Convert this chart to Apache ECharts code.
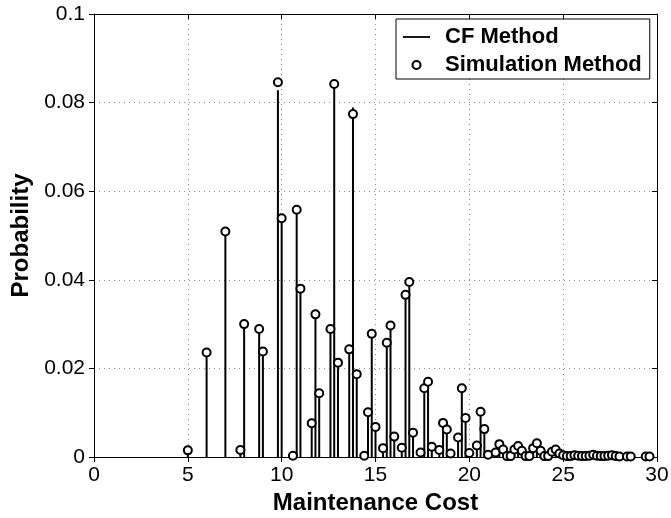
<!DOCTYPE html>
<html>
<head>
<meta charset="utf-8">
<script src="https://cdn.jsdelivr.net/npm/echarts@6/dist/echarts.min.js"></script>
<style>html,body{margin:0;padding:0;background:#fff}#c{width:671px;height:518px}</style>
</head>
<body>
<div id="c"></div>
<script>
// Maintenance cost values (x positions of the distribution)
const costs = [5.0, 6.0, 7.0, 7.8, 8.0, 8.8, 9.0, 9.8, 10.0, 10.6, 10.8, 11.0, 11.6, 11.8, 12.0, 12.6, 12.8, 13.0,
  13.6, 13.8, 14.0, 14.4, 14.6, 14.8, 15.0, 15.4, 15.6, 15.8, 16.0, 16.4, 16.6, 16.8, 17.0, 17.4, 17.6, 17.8, 18.0,
  18.4, 18.6, 18.8, 19.0, 19.4, 19.6, 19.8, 20.0, 20.4, 20.6, 20.8, 21.0, 21.4, 21.6, 21.8, 22.0, 22.2, 22.4, 22.6,
  22.8, 23.0, 23.2, 23.4, 23.6, 23.8, 24.0, 24.2, 24.4, 24.6, 24.8, 25.0, 25.2, 25.4, 25.6, 25.8, 26.0, 26.2, 26.4,
  26.6, 26.8, 27.0, 27.2, 27.4, 27.6, 27.8, 28.0, 28.4, 28.6, 29.4, 29.6];
// Simulation method probabilities (circles)
const simProb = [0.0015, 0.0236, 0.0509, 0.0016, 0.0300, 0.0289, 0.0238, 0.0846, 0.0539, 0.0003, 0.0558, 0.0380,
  0.0076, 0.0322, 0.0144, 0.0289, 0.0842, 0.0213, 0.0243, 0.0774, 0.0187, 0.0003, 0.0101, 0.0278, 0.0068, 0.0020,
  0.0258, 0.0297, 0.0046, 0.0021, 0.0366, 0.0395, 0.0055, 0.0010, 0.0155, 0.0170, 0.0023, 0.0016, 0.0077, 0.0062,
  0.0008, 0.0044, 0.0155, 0.0088, 0.0009, 0.0026, 0.0102, 0.0063, 0.0005, 0.0010, 0.0029, 0.0017, 0.0002, 0.0002,
  0.0017, 0.0025, 0.0014, 0.0002, 0.0002, 0.0020, 0.0031, 0.0014, 0.0002, 0.0002, 0.0012, 0.0017, 0.0008, 0.0004,
  0.0002, 0.0002, 0.0004, 0.0003, 0.0002, 0.0002, 0.0003, 0.0005, 0.0003, 0.0002, 0.0002, 0.0003, 0.0004, 0.0002,
  0.0001, 0.0001, 0.0001, 0.0001, 0.0001];
// CF method probabilities (stems)
const cfProb = [0.0015, 0.0236, 0.0509, 0.0016, 0.0300, 0.0293, 0.0238, 0.0828, 0.0539, 0.0003, 0.0558, 0.0380,
  0.0076, 0.0322, 0.0144, 0.0289, 0.0842, 0.0213, 0.0243, 0.0789, 0.0187, 0.0003, 0.0101, 0.0278, 0.0068, 0.0020,
  0.0258, 0.0297, 0.0046, 0.0021, 0.0366, 0.0395, 0.0055, 0.0010, 0.0155, 0.0170, 0.0023, 0.0016, 0.0077, 0.0062,
  0.0008, 0.0044, 0.0155, 0.0088, 0.0009, 0.0026, 0.0102, 0.0063, 0.0005, 0.0010, 0.0029, 0.0017, 0.0002, 0.0002,
  0.0017, 0.0025, 0.0014, 0.0002, 0.0002, 0.0020, 0.0031, 0.0014, 0.0002, 0.0002, 0.0012, 0.0017, 0.0008, 0.0004,
  0.0002, 0.0002, 0.0004, 0.0003, 0.0002, 0.0002, 0.0003, 0.0005, 0.0003, 0.0002, 0.0002, 0.0003, 0.0004, 0.0002,
  0.0001, 0.0001, 0.0001, 0.0001, 0.0001];
const seriesNames = ['CF Method', 'Simulation Method'];
const xTitle = 'Maintenance Cost';
const yTitle = 'Probability';

const FONT = '"Liberation Sans", Arial, Helvetica, sans-serif';
const chart = echarts.init(document.getElementById('c'), null, {renderer: 'canvas'});
const gridLine = {show: true, lineStyle: {color: '#8a8a8a', type: [1, 4], width: 1}};
const option = {
  animation: false,
  backgroundColor: '#fff',
  grid: {left: 94, right: 14, top: 14, bottom: 61, containLabel: false, outerBoundsMode: 'none'},
  legend: {
    orient: 'vertical', left: 396, top: 19,
    padding: [7, 8, 3, 7], itemGap: 6, itemWidth: 27, itemHeight: 8,
    borderColor: '#000', borderWidth: 1, backgroundColor: '#fff',
    textStyle: {fontFamily: FONT, fontSize: 22, fontWeight: 'bold', color: '#000', lineHeight: 22, padding: [0, 0, 0, 10]},
    data: [
      {name: seriesNames[0], icon: 'path://M0,0L27,0L27,1.8L0,1.8Z', itemStyle: {color: '#000'}},
      {name: seriesNames[1], icon: 'circle', itemStyle: {color: '#fff', borderColor: '#000', borderWidth: 2}}
    ]
  },
  xAxis: [{
    type: 'value', min: 0, max: 30, interval: 5, position: 'bottom',
    name: xTitle, nameLocation: 'middle', nameGap: 31,
    nameTextStyle: {fontFamily: FONT, fontSize: 24, fontWeight: 'bold', color: '#000'},
    axisLine: {show: true, onZero: false, lineStyle: {color: '#000', width: 1}},
    axisTick: {show: true, inside: false, length: 5, lineStyle: {color: '#000'}},
    axisLabel: {fontFamily: FONT, fontSize: 21, color: '#000', margin: 8, showMinLabel: true, showMaxLabel: true},
    splitLine: gridLine
  }, {
    type: 'value', min: 0, max: 30, interval: 5, position: 'top',
    axisLine: {show: true, onZero: false, lineStyle: {color: '#000', width: 1}},
    axisTick: {show: true, inside: true, length: 5, lineStyle: {color: '#000'}},
    axisLabel: {show: false}, splitLine: {show: false}
  }],
  yAxis: [{
    type: 'value', min: 0, max: 0.1, interval: 0.02, position: 'left',
    name: yTitle, nameLocation: 'middle', nameGap: 60,
    nameTextStyle: {fontFamily: FONT, fontSize: 24, fontWeight: 'bold', color: '#000'},
    axisLine: {show: true, onZero: false, lineStyle: {color: '#000', width: 1}},
    axisTick: {show: true, inside: false, length: 5, lineStyle: {color: '#000'}},
    axisLabel: {fontFamily: FONT, fontSize: 21, color: '#000', margin: 9, showMinLabel: true, showMaxLabel: true},
    splitLine: gridLine
  }, {
    type: 'value', min: 0, max: 0.1, interval: 0.02, position: 'right',
    axisLine: {show: true, onZero: false, lineStyle: {color: '#000', width: 1}},
    axisTick: {show: true, inside: true, length: 5, lineStyle: {color: '#000'}},
    axisLabel: {show: false}, splitLine: {show: false}
  }],
  series: [{
    name: seriesNames[0], type: 'custom', xAxisIndex: 0, yAxisIndex: 0,
    itemStyle: {color: '#000'},
    encode: {x: 0, y: 1},
    data: costs.map((c, i) => [c, cfProb[i]]),
    renderItem: function (params, api) {
      const p0 = api.coord([api.value(0), 0]);
      const p1 = api.coord([api.value(0), api.value(1)]);
      return {type: 'line', shape: {x1: p0[0], y1: p0[1], x2: p1[0], y2: p1[1]},
        style: {stroke: '#000', lineWidth: 2}};
    },
    z: 2
  }, {
    name: seriesNames[1], type: 'scatter', xAxisIndex: 0, yAxisIndex: 0,
    symbol: 'circle', symbolSize: 8,
    itemStyle: {color: '#fff', borderColor: '#000', borderWidth: 2, opacity: 1},
    data: costs.map((c, i) => [c, simProb[i]]),
    z: 3
  }]
};
chart.setOption(option);
</script>
</body>
</html>
